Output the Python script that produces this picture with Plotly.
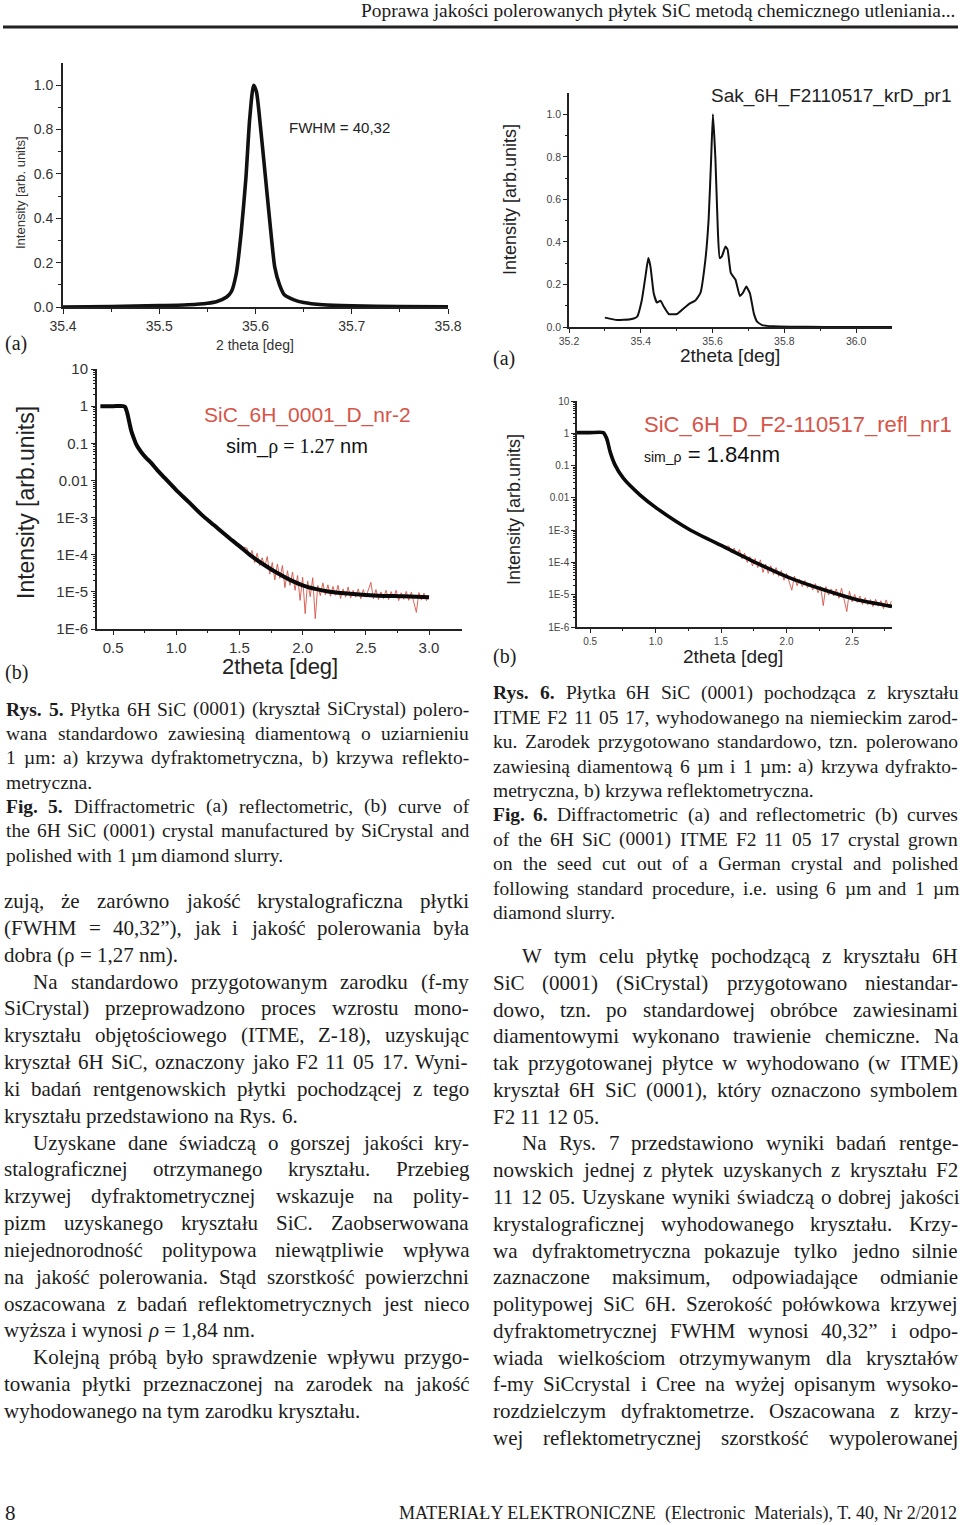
import re
import plotly.graph_objects as go

W, H = 960, 1525

# ======================= DATA =======================
# Rys. 5a - diffraction curve (SiCrystal wafer)
R5A_X = [35.40, 35.45, 35.50, 35.53, 35.55, 35.56, 35.57, 35.575, 35.58, 35.585, 35.59, 35.594,
         35.598, 35.601, 35.605, 35.61, 35.615, 35.62, 35.625, 35.63, 35.64, 35.65, 35.67, 35.70,
         35.75, 35.80]
R5A_Y = [0.0, 0.002, 0.006, 0.01, 0.017, 0.025, 0.045, 0.07, 0.15, 0.33, 0.58, 0.85,
         1.0, 0.97, 0.82, 0.6, 0.38, 0.18, 0.1, 0.055, 0.032, 0.02, 0.01, 0.005,
         0.002, 0.001]

# Rys. 6a - diffraction curve (ITME F2 11 05 17)
R6A_X = [35.30, 35.334, 35.371, 35.39, 35.403, 35.413, 35.421, 35.427, 35.436, 35.445,
         35.455, 35.464, 35.478, 35.501, 35.52, 35.538, 35.552, 35.566, 35.58, 35.589,
         35.596, 35.601, 35.608, 35.615, 35.62, 35.626, 35.636, 35.642, 35.651, 35.664,
         35.676, 35.684, 35.694, 35.704, 35.715, 35.724, 35.738, 35.77, 35.817, 35.91, 36.1]
R6A_Y = [0.044, 0.033, 0.036, 0.049, 0.127, 0.237, 0.324, 0.284, 0.159, 0.115,
         0.124, 0.096, 0.061, 0.061, 0.088, 0.112, 0.124, 0.159, 0.316, 0.505,
         0.788, 1.0, 0.788, 0.442, 0.324, 0.332, 0.379, 0.363, 0.253, 0.222,
         0.146, 0.159, 0.19, 0.159, 0.064, 0.025, 0.009, 0.003, 0.0015, 0.0005, 0.0]

# Rys. 5b - reflectometry: simulation (black) and measurement (red)
R5B_FIT_X = [0.40, 0.50, 0.58, 0.595, 0.61, 0.63, 0.645, 0.66, 0.68, 0.70, 0.73, 0.76, 0.80, 0.85,
             0.90, 1.00, 1.10, 1.20, 1.30, 1.40, 1.50, 1.58, 1.70, 1.80, 1.90, 2.00, 2.10, 2.20,
             2.40, 2.60, 2.80, 3.00]
R5B_FIT_Y = [1.0, 1.0, 1.0, 0.95, 0.7, 0.35, 0.21, 0.15, 0.10, 0.075, 0.054, 0.041, 0.030, 0.019,
             0.0125, 5.5e-3, 2.6e-3, 1.2e-3, 6.2e-4, 3.2e-4, 1.7e-4, 1.0e-4, 5.2e-5, 3.2e-5,
             2.1e-5, 1.5e-5, 1.2e-5, 1.02e-5, 8.7e-6, 7.9e-6, 7.6e-6, 7.2e-6]
R5B_MEAS_X = [0.40, 0.50, 0.58, 0.62, 0.70, 0.90, 1.20, 1.50,
              1.56, 1.58, 1.60, 1.62, 1.64, 1.66, 1.68, 1.70, 1.72, 1.74,
              1.76, 1.78, 1.80, 1.82, 1.84, 1.86, 1.88, 1.90, 1.92, 1.94,
              1.96, 1.98, 2.00, 2.02, 2.04, 2.06, 2.08, 2.10, 2.12, 2.14,
              2.16, 2.18, 2.20, 2.22, 2.24, 2.26, 2.28, 2.30, 2.32, 2.34,
              2.36, 2.38, 2.40, 2.42, 2.44, 2.46, 2.48, 2.50, 2.52, 2.54,
              2.56, 2.58, 2.60, 2.62, 2.64, 2.66, 2.68, 2.70, 2.72, 2.74,
              2.76, 2.78, 2.80, 2.82, 2.84, 2.86, 2.88, 2.90, 2.92, 2.94,
              2.96, 2.98, 3.00]
R5B_MEAS_Y = [1.0, 1.0, 1.0, 0.5, 0.07, 0.011, 1.2e-3, 1.7e-4,
              1.5e-4, 8.9e-5, 1.3e-4, 6.1e-5, 1.1e-4, 5.1e-5, 8.3e-5, 4.7e-5, 8.9e-5, 3.0e-5,
              6.2e-5, 2.1e-5, 5.6e-5, 2.3e-5, 5.1e-5, 1.3e-5, 3.7e-5, 1.5e-5, 3.4e-5, 1.1e-5,
              2.75e-5, 5.9e-6, 2.5e-5, 2.6e-6, 1.95e-5, 7.4e-6, 2.4e-5, 1.9e-6, 1.5e-5, 7.9e-6,
              1.74e-5, 8.3e-6, 1.55e-5, 7.6e-6, 1.4e-5, 8.1e-6, 1.5e-5, 6.6e-6, 1.2e-5, 7.2e-6,
              1.35e-5, 6.8e-6, 1.1e-5, 7.2e-6, 1.2e-5, 6.5e-6, 1.15e-5, 7.2e-6, 1.1e-5, 1.8e-5,
              6.5e-6, 1.15e-5, 6.2e-6, 1.0e-5, 6.6e-6, 1.1e-5, 6.2e-6, 1.02e-5, 6.8e-6, 1.1e-5,
              5.8e-6, 9.5e-6, 6.3e-6, 1.03e-5, 5.9e-6, 9.8e-6, 5.2e-6, 2.8e-6, 9.6e-6, 6.0e-6,
              9.2e-6, 5.8e-6, 7.9e-6]

# Rys. 6b - reflectometry: simulation (black) and measurement (red)
R6B_FIT_X = [0.40, 0.50, 0.60, 0.627, 0.653, 0.691, 0.755, 0.882, 1.01, 1.264, 1.519, 1.774,
             2.029, 2.284, 2.539, 2.805]
R6B_FIT_Y = [1.05, 1.05, 1.05, 0.687, 0.266, 0.103, 0.0398, 0.0122, 4.73e-3, 1.01e-3, 3.1e-4,
             9.5e-5, 3.26e-5, 1.42e-5, 6.98e-6, 4.35e-6]
R6B_MEAS_X = [0.40, 0.50, 0.60, 0.65, 0.75, 1.00, 1.26, 1.52,
              1.56, 1.58, 1.60, 1.62, 1.64, 1.66, 1.68, 1.70, 1.72, 1.74,
              1.76, 1.78, 1.80, 1.82, 1.84, 1.86, 1.88, 1.90, 1.92, 1.94,
              1.96, 1.98, 2.00, 2.02, 2.04, 2.06, 2.08, 2.10, 2.12, 2.14,
              2.16, 2.18, 2.20, 2.22, 2.24, 2.26, 2.28, 2.30, 2.32, 2.34,
              2.36, 2.38, 2.40, 2.42, 2.44, 2.46, 2.48, 2.50, 2.52, 2.54,
              2.56, 2.58, 2.60, 2.62, 2.64, 2.66, 2.68, 2.70, 2.72, 2.74,
              2.76, 2.78, 2.80]
R6B_MEAS_Y = [1.05, 1.05, 1.05, 0.28, 0.04, 4.8e-3, 1.0e-3, 3.1e-4,
              3.2e-4, 1.95e-4, 2.8e-4, 1.7e-4, 2.5e-4, 1.29e-4, 1.95e-4, 1.0e-4, 1.51e-4, 7.8e-5,
              1.32e-4, 6.9e-5, 1.2e-4, 4.9e-5, 8.9e-5, 4.6e-5, 7.9e-5, 4.2e-5, 6.9e-5, 3.7e-5,
              5.6e-5, 2.8e-5, 4.6e-5, 2.5e-5, 1.38e-5, 3.8e-5, 1.9e-5, 3.0e-5, 1.78e-5, 2.75e-5,
              1.66e-5, 2.3e-5, 1.41e-5, 2.2e-5, 1.15e-5, 1.82e-5, 4.6e-6, 1.78e-5, 9.8e-6, 1.51e-5,
              9.1e-6, 1.51e-5, 7.8e-6, 1.58e-5, 6.5e-6, 3.0e-6, 1.29e-5, 6.0e-6, 1.02e-5, 5.8e-6,
              9.1e-6, 5.0e-6, 8.1e-6, 4.9e-6, 7.1e-6, 4.3e-6, 7.2e-6, 4.4e-6, 6.5e-6, 3.7e-6,
              6.9e-6, 4.0e-6, 6.3e-6]

# tick values / labels
X5A_TICKS = [35.4, 35.5, 35.6, 35.7, 35.8]
X6A_TICKS = [35.2, 35.4, 35.6, 35.8, 36.0]
Y_LIN_TICKS = [0.0, 0.2, 0.4, 0.6, 0.8, 1.0]
X5B_TICKS = [0.5, 1.0, 1.5, 2.0, 2.5, 3.0]
X6B_TICKS = [0.5, 1.0, 1.5, 2.0, 2.5]
Y_LOG_TICKS = [1e-6, 1e-5, 1e-4, 1e-3, 0.01, 0.1, 1, 10]
Y_LOG_TEXT = ["1E-6", "1E-5", "1E-4", "1E-3", "0.01", "0.1", "1", "10"]

# page texts
HEADER = "Poprawa jakości polerowanych płytek SiC metodą chemicznego utleniania..."
FOOTER_PAGE = "8"
FOOTER_JOURNAL = "MATERIAŁY ELEKTRONICZNE  (Electronic  Materials), T. 40, Nr 2/2012"

CAPTION_LEFT = [
    {"bold": 2, "indent": False, "cont": False, "lines": [
        "Rys. 5. Płytka 6H SiC (0001) (kryształ SiCrystal) polero-",
        "wana standardowo zawiesiną diamentową o uziarnieniu",
        "1 µm: a) krzywa dyfraktometryczna, b) krzywa reflekto-",
        "metryczna."]},
    {"bold": 2, "indent": False, "cont": False, "lines": [
        "Fig. 5. Diffractometric (a) reflectometric, (b) curve of",
        "the 6H SiC (0001) crystal manufactured by SiCrystal and",
        "polished with 1 µm diamond slurry."]},
]
CAPTION_RIGHT = [
    {"bold": 2, "indent": False, "cont": False, "lines": [
        "Rys. 6. Płytka 6H SiC (0001) pochodząca z kryształu",
        "ITME F2 11 05 17, wyhodowanego na niemieckim zarod-",
        "ku. Zarodek przygotowano standardowo, tzn. polerowano",
        "zawiesiną diamentową 6 µm i 1 µm: a) krzywa dyfrakto-",
        "metryczna, b) krzywa reflektometryczna."]},
    {"bold": 2, "indent": False, "cont": False, "lines": [
        "Fig. 6. Diffractometric (a) and reflectometric (b) curves",
        "of the 6H SiC (0001) ITME F2 11 05 17 crystal grown",
        "on the seed cut out of a German crystal and polished",
        "following standard procedure, i.e. using 6 µm and 1 µm",
        "diamond slurry."]},
]
BODY_LEFT = [
    {"bold": 0, "indent": False, "cont": False, "lines": [
        "zują, że zarówno jakość krystalograficzna płytki",
        "(FWHM = 40,32”), jak i jakość polerowania była",
        "dobra (ρ = 1,27 nm)."]},
    {"bold": 0, "indent": True, "cont": False, "lines": [
        "Na standardowo przygotowanym zarodku (f-my",
        "SiCrystal) przeprowadzono proces wzrostu mono-",
        "kryształu objętościowego (ITME, Z-18), uzyskując",
        "kryształ 6H SiC, oznaczony jako F2 11 05 17. Wyni-",
        "ki badań rentgenowskich płytki pochodzącej z tego",
        "kryształu przedstawiono na Rys. 6."]},
    {"bold": 0, "indent": True, "cont": False, "lines": [
        "Uzyskane dane świadczą o gorszej jakości kry-",
        "stalograficznej otrzymanego kryształu. Przebieg",
        "krzywej dyfraktometrycznej wskazuje na polity-",
        "pizm uzyskanego kryształu SiC. Zaobserwowana",
        "niejednorodność politypowa niewątpliwie wpływa",
        "na jakość polerowania. Stąd szorstkość powierzchni",
        "oszacowana z badań reflektometrycznych jest nieco",
        "wyższa i wynosi <i>ρ</i> = 1,84 nm."]},
    {"bold": 0, "indent": True, "cont": False, "lines": [
        "Kolejną próbą było sprawdzenie wpływu przygo-",
        "towania płytki przeznaczonej na zarodek na jakość",
        "wyhodowanego na tym zarodku kryształu."]},
]
BODY_RIGHT = [
    {"bold": 0, "indent": True, "cont": False, "lines": [
        "W tym celu płytkę pochodzącą z kryształu 6H",
        "SiC (0001) (SiCrystal) przygotowano niestandar-",
        "dowo, tzn. po standardowej obróbce zawiesinami",
        "diamentowymi wykonano trawienie chemiczne. Na",
        "tak przygotowanej płytce w wyhodowano (w ITME)",
        "kryształ 6H SiC (0001), który oznaczono symbolem",
        "F2 11 12 05."]},
    {"bold": 0, "indent": True, "cont": True, "lines": [
        "Na Rys. 7 przedstawiono wyniki badań rentge-",
        "nowskich jednej z płytek uzyskanych z kryształu F2",
        "11 12 05. Uzyskane wyniki świadczą o dobrej jakości",
        "krystalograficznej wyhodowanego kryształu. Krzy-",
        "wa dyfraktometryczna pokazuje tylko jedno silnie",
        "zaznaczone maksimum, odpowiadające odmianie",
        "politypowej SiC 6H. Szerokość połówkowa krzywej",
        "dyfraktometrycznej FWHM wynosi 40,32” i odpo-",
        "wiada wielkościom otrzymywanym dla kryształów",
        "f-my SiCcrystal i Cree na wyżej opisanym wysoko-",
        "rozdzielczym dyfraktometrze. Oszacowana z krzy-",
        "wej reflektometrycznej szorstkość wypolerowanej"]},
]

# ======================= HELPERS =======================
def fx(x):
    return x / W


def fy(y):
    return 1 - y / H


SERIF = "Liberation Serif"
SANS = "Liberation Sans"
INK = "#1c1c1c"
RED = "rgb(214,84,72)"

TW = {' ': 250, '!': 333, '"': 408, '(': 333, ')': 333, ',': 250, '-': 333, '.': 250, '/': 278,
      ':': 278, ';': 278, '=': 564, '”': 444, '“': 444, 'µ': 500, 'ρ': 500,
      'ą': 444, 'ć': 444, 'ę': 444, 'ł': 278, 'ń': 500, 'ó': 500, 'ś': 389, 'ź': 444, 'ż': 444,
      'Ł': 611, 'Ś': 556, 'Ż': 611}
for d in "0123456789":
    TW[d] = 500
TW.update(dict(zip("ABCDEFGHIJKLMNOPQRSTUVWXYZ",
                   [722, 667, 667, 722, 611, 556, 722, 722, 333, 389, 722, 611, 889, 722, 722, 556,
                    722, 667, 556, 611, 722, 722, 944, 722, 722, 611])))
TW.update(dict(zip("abcdefghijklmnopqrstuvwxyz",
                   [444, 500, 444, 500, 444, 333, 500, 500, 278, 278, 500, 278, 778, 500, 500, 500,
                    500, 333, 389, 278, 500, 500, 722, 500, 500, 444])))
TWB = {'R': 722}


def text_w(s, size, bold=False):
    s = re.sub(r"<[^>]+>", "", s)
    tot = 0
    for ch in s:
        if bold and ch in TWB:
            tot += TWB[ch]
        else:
            tot += TW.get(ch, 500)
    return tot * size / 1000.0


annotations = []


def ann(text, x, y, size, family=SANS, color=INK, xanchor="center", yanchor="middle", angle=0):
    annotations.append(dict(text=text, x=fx(x), y=fy(y), xref="paper", yref="paper",
                            showarrow=False, xanchor=xanchor, yanchor=yanchor, textangle=angle,
                            borderpad=0, font=dict(family=family, size=size, color=color)))


def text_block(paras, x0, x1, y0, lh, size, indent=29):
    y = y0
    for para in paras:
        lines = para["lines"]
        for li, line in enumerate(lines):
            words = line.split(" ")
            left = x0 + (indent if (li == 0 and para["indent"]) else 0)
            nb = para["bold"] if li == 0 else 0
            widths = [text_w(w, size, bold=(k < nb)) for k, w in enumerate(words)]
            last = (li == len(lines) - 1) and not para["cont"]
            natural = 0.25 * size
            if last or len(words) == 1:
                gap = natural
            else:
                gap = (x1 - left - sum(widths)) / (len(words) - 1)
                gap = max(gap, 0.15 * size)
            x = left
            for k, w in enumerate(words):
                t = "<b>%s</b>" % w if k < nb else w
                ann(t, x, y, size, family=SERIF, xanchor="left")
                x += widths[k] + gap
            y += lh


# ======================= FIGURE =======================
fig = go.Figure()

fig.add_trace(go.Scatter(x=R5A_X, y=R5A_Y, mode="lines", xaxis="x", yaxis="y",
                         line=dict(color="#111", width=3.6, shape="spline", smoothing=0.6)))
fig.add_trace(go.Scatter(x=R6A_X, y=R6A_Y, mode="lines", xaxis="x2", yaxis="y2",
                         line=dict(color="#111", width=2, shape="spline", smoothing=0.4)))
fig.add_trace(go.Scatter(x=R5B_MEAS_X, y=R5B_MEAS_Y, mode="lines", xaxis="x3", yaxis="y3",
                         line=dict(color=RED, width=0.9)))
fig.add_trace(go.Scatter(x=R5B_FIT_X, y=R5B_FIT_Y, mode="lines", xaxis="x3", yaxis="y3",
                         line=dict(color="#0a0a0a", width=4, shape="spline", smoothing=0.8)))
fig.add_trace(go.Scatter(x=R6B_MEAS_X, y=R6B_MEAS_Y, mode="lines", xaxis="x4", yaxis="y4",
                         line=dict(color=RED, width=0.9)))
fig.add_trace(go.Scatter(x=R6B_FIT_X, y=R6B_FIT_Y, mode="lines", xaxis="x4", yaxis="y4",
                         line=dict(color="#0a0a0a", width=3.6, shape="spline", smoothing=0.6)))


def axis(domain, rng, anchor, tickvals, size, lw=2, ticklen=5, minor=None, fmt=None,
         typ="linear", ticktext=None, color="#333"):
    d = dict(domain=domain, range=rng, anchor=anchor, type=typ, showgrid=False, zeroline=False,
             showline=True, linecolor="#222", linewidth=lw, ticks="outside", tickcolor="#222",
             tickwidth=1.3, ticklen=ticklen, tickmode="array", tickvals=tickvals, automargin=False,
             tickfont=dict(family=SANS, size=size, color=color), fixedrange=True)
    if ticktext is not None:
        d["ticktext"] = ticktext
    if fmt:
        d["tickformat"] = fmt
    if minor is not None:
        d["minor"] = dict(tickmode="array", tickvals=minor, ticks="outside", ticklen=max(2, ticklen - 2),
                          tickcolor="#222", tickwidth=1, showgrid=False)
    return d


log_minor = [k * 10 ** e for e in range(-6, 1) for k in range(2, 10)]

fig.update_layout(
    width=W, height=H, margin=dict(l=0, r=0, t=0, b=0, pad=0, autoexpand=False), autosize=False,
    paper_bgcolor="white", plot_bgcolor="white", showlegend=False,
    xaxis=axis([fx(63), fx(448)], [35.4, 35.8], "y", X5A_TICKS, 14, lw=2, fmt=".1f",
               minor=[35.45, 35.55, 35.65, 35.75]),
    yaxis=axis([fy(307), fy(63)], [0, 1.1], "x", Y_LIN_TICKS, 14, lw=2, fmt=".1f",
               minor=[0.1, 0.3, 0.5, 0.7, 0.9]),
    xaxis2=axis([fx(569), fx(892)], [35.2, 36.1], "y2", X6A_TICKS, 10.5, lw=1.5, ticklen=4, fmt=".1f",
                minor=[35.3, 35.5, 35.7, 35.9], color="#444"),
    yaxis2=axis([fy(327), fy(93)], [0, 1.1], "x2", Y_LIN_TICKS, 10.5, lw=1.5, ticklen=4, fmt=".1f",
                minor=[0.1, 0.3, 0.5, 0.7, 0.9], color="#444"),
    xaxis3=axis([fx(97), fx(462)], [0.373, 3.261], "y3", X5B_TICKS, 15, lw=2, ticklen=4, fmt=".1f",
                minor=[0.75, 1.25, 1.75, 2.25, 2.75]),
    yaxis3=axis([fy(629), fy(369)], [-6, 1], "x3", Y_LOG_TICKS, 15, lw=2, ticklen=4, typ="log",
                ticktext=Y_LOG_TEXT, minor=log_minor),
    xaxis4=axis([fx(577), fx(892)], [0.4, 2.805], "y4", X6B_TICKS, 10, lw=1.5, ticklen=4, fmt=".1f",
                minor=[0.75, 1.25, 1.75, 2.25, 2.75], color="#444"),
    yaxis4=axis([fy(627), fy(401)], [-6, 1], "x4", Y_LOG_TICKS, 10, lw=1.5, ticklen=4, typ="log",
                ticktext=Y_LOG_TEXT, minor=log_minor, color="#444"),
)

# ---- chart texts ----
# Rys. 5a
ann("Intensity [arb. units]", 20, 193, 13, angle=-90, color="#333")
ann("2 theta [deg]", 255, 345, 14, color="#333")
ann("FWHM = 40,32", 288, 127, 15, xanchor="left", color="#222")
# Rys. 6a
ann("Intensity [arb.units]", 510, 200, 18, angle=-90, color="#222")
ann("2theta [deg]", 730, 356, 19, color="#222")
ann("Sak_6H_F2110517_krD_pr1", 710, 96, 19, xanchor="left", color="#222")
# Rys. 5b
ann("Intensity [arb.units]", 26, 503, 23, angle=-90, color="#222")
ann("2theta [deg]", 280, 666, 22, color="#222")
ann("SiC_6H_0001_D_nr-2", 307, 415, 21, color=RED)
ann("sim_<span style='font-family:Liberation Serif'>ρ = 1.27</span> nm", 297, 447, 20, color="#111")
# Rys. 6b
ann("Intensity [arb.units]", 514, 510, 18, angle=-90, color="#222")
ann("2theta [deg]", 733, 656, 19, color="#222")
ann("SiC_6H_D_F2-110517_refl_nr1", 643, 425, 22, xanchor="left", color=RED)
ann("<span style='font-size:14px'>sim_ρ</span> = 1.84nm", 643, 454, 22, xanchor="left", color="#111")

# panel letters
ann("(a)", 4, 343, 20, family=SERIF, xanchor="left")
ann("(a)", 492, 358, 20, family=SERIF, xanchor="left")
ann("(b)", 4, 672, 20, family=SERIF, xanchor="left")
ann("(b)", 492, 656, 20, family=SERIF, xanchor="left")

# header / footer
hs = 595 / (text_w(HEADER, 1000) / 1000)
ann(HEADER, 956, 11, hs, family=SERIF, xanchor="right")
ann(FOOTER_PAGE, 4, 1513, 21, family=SERIF, xanchor="left")
fs = 563 / (text_w(FOOTER_JOURNAL, 1000) / 1000)
ann(FOOTER_JOURNAL, 958, 1513, fs, family=SERIF, xanchor="right")

# captions and body text
text_block(CAPTION_LEFT, 5, 468, 709, 24.35, 19.5)
text_block(CAPTION_RIGHT, 492, 957, 693, 24.4, 19.5)
text_block(BODY_LEFT, 3, 468, 901, 26.84, 21)
text_block(BODY_RIGHT, 492, 957, 956, 26.78, 21)

fig.update_layout(annotations=annotations,
                  shapes=[dict(type="line", xref="paper", yref="paper", x0=fx(3), x1=fx(958),
                               y0=fy(27), y1=fy(27), line=dict(color="#222", width=3))])

# page body without default margins so the 960x1525 figure fills the window exactly
PAGE_CSS_JS = "document.body.style.margin='0';document.body.style.overflow='hidden';"
fig.write_html("out.html", config={"displayModeBar": False}, post_script=PAGE_CSS_JS)
